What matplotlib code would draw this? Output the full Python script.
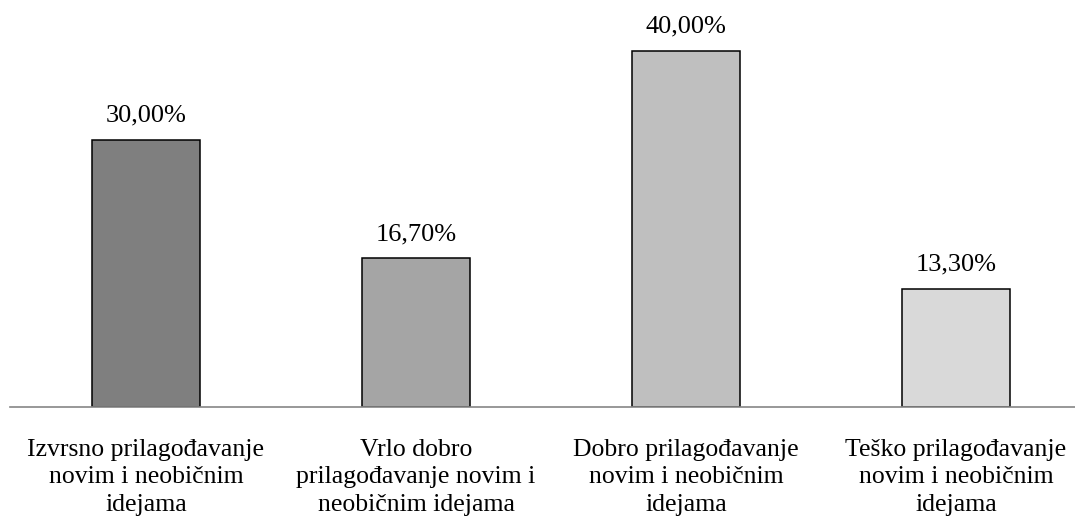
import numpy as np
import matplotlib.pyplot as plt

categories = [
    "Izvrsno prilagođavanje\nnovim i neobičnim\nidejama",
    "Vrlo dobro\nprilagođavanje novim i\nneobičnim idejama",
    "Dobro prilagođavanje\nnovim i neobičnim\nidejama",
    "Teško prilagođavanje\nnovim i neobičnim\nidejama",
]
values = [30.0, 16.7, 40.0, 13.3]
value_labels = ["30,00%", "16,70%", "40,00%", "13,30%"]
colors = ["#7f7f7f", "#a5a5a5", "#bfbfbf", "#d9d9d9"]

plt.rcParams['font.family'] = ['Liberation Serif', 'DejaVu Serif']

fig = plt.figure(figsize=(10.75, 5.22), dpi=100)
ax = fig.add_axes([10/1075, 115/522, 1065/1075, 407/522])

x = np.arange(len(categories))
ax.bar(x, values, width=0.4, color=colors, edgecolor="black", linewidth=1.1, zorder=2)

for xi, v, lab in zip(x, values, value_labels):
    ax.annotate(lab, (xi, v), xytext=(0, 9.5), textcoords="offset points",
                ha="center", va="bottom", fontsize=19)

ax.set_xlim(-136/270, -136/270 + 1065/270)
ax.set_ylim(0, 40*407/356)

ax.set_xticks(x)
ax.set_xticklabels(categories, fontsize=18.5, linespacing=1.32)
ax.tick_params(axis="x", length=0, pad=23)
ax.set_yticks([])

for s in ["top", "right", "left"]:
    ax.spines[s].set_visible(False)
ax.spines["bottom"].set_color("#868686")
ax.spines["bottom"].set_linewidth(1.2)
ax.patch.set_alpha(0)

fig.savefig("out.png", dpi=100)
